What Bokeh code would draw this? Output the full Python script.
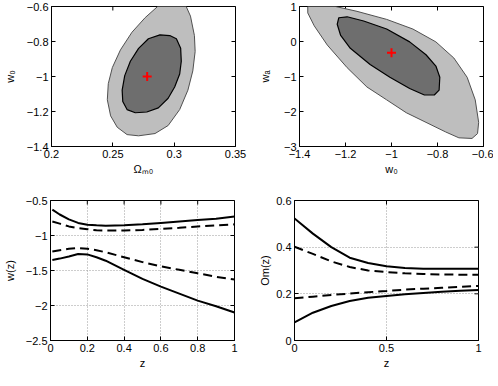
import math
from bokeh.plotting import figure
from bokeh.layouts import column, row
from bokeh.models import FixedTicker, CustomJSTickFormatter, Range1d
from bokeh.embed import file_html
from bokeh.resources import INLINE

# ---------------- data ----------------
# Top-left: Omega_m0 vs w0 confidence contours
tl_outer_om = [0.2865, 0.3098, 0.3133, 0.3165, 0.3171, 0.3152, 0.3112, 0.3045, 0.2951, 0.2844,
               0.2710, 0.2616, 0.2536, 0.2482, 0.2455, 0.2463, 0.2496, 0.2562, 0.2656, 0.2763]
tl_outer_w0 = [-0.600, -0.600, -0.655, -0.766, -0.857, -0.968, -1.078, -1.189, -1.280, -1.326,
               -1.339, -1.332, -1.290, -1.225, -1.133, -1.041, -0.949, -0.848, -0.747, -0.664]
tl_inner_om = [0.2964, 0.3018, 0.3053, 0.3058, 0.3045, 0.3004, 0.2951, 0.2871, 0.2777, 0.2683,
               0.2616, 0.2581, 0.2576, 0.2597, 0.2643, 0.2710, 0.2790, 0.2884]
tl_inner_w0 = [-0.766, -0.784, -0.839, -0.913, -0.986, -1.060, -1.124, -1.179, -1.203, -1.207,
               -1.189, -1.143, -1.078, -0.995, -0.913, -0.839, -0.784, -0.762]
tl_best = ([0.278], [-1.0])

# Top-right: w0 vs wa confidence contours
tr_outer_w0 = [-1.364, -1.243, -1.150, -1.021, -0.907, -0.807, -0.729, -0.671, -0.636, -0.621,
               -0.626, -0.650, -0.707, -0.764, -0.850, -0.936, -1.021, -1.107, -1.193, -1.279,
               -1.336, -1.364]
tr_outer_wa = [1.0, 1.0, 0.862, 0.632, 0.356, -0.011, -0.471, -1.023, -1.667, -2.310,
               -2.632, -2.770, -2.752, -2.586, -2.310, -2.034, -1.667, -1.299, -0.747, -0.103,
               0.448, 0.816]
tr_inner_w0 = [-1.229, -1.193, -1.121, -1.021, -0.921, -0.850, -0.807, -0.790, -0.793, -0.814,
               -0.857, -0.921, -1.007, -1.093, -1.179, -1.221, -1.236]
tr_inner_wa = [0.678, 0.706, 0.586, 0.356, -0.011, -0.379, -0.701, -1.023, -1.391, -1.529,
               -1.529, -1.345, -1.023, -0.655, -0.195, 0.172, 0.494]
tr_best = ([-1.0], [-0.32])

# Bottom-left: w(z) bands
z_w = [0.01, 0.05, 0.1, 0.15, 0.2, 0.25, 0.3, 0.4, 0.5, 0.6, 0.7, 0.8, 0.9, 1.0]
w_up_solid = [-0.63, -0.70, -0.77, -0.82, -0.845, -0.855, -0.86, -0.855, -0.84, -0.82, -0.80, -0.78, -0.76, -0.73]
w_up_dash = [-0.80, -0.83, -0.87, -0.895, -0.91, -0.925, -0.93, -0.93, -0.92, -0.905, -0.89, -0.87, -0.855, -0.84]
w_lo_dash = [-1.23, -1.21, -1.19, -1.18, -1.19, -1.21, -1.24, -1.31, -1.38, -1.44, -1.49, -1.54, -1.59, -1.63]
w_lo_solid = [-1.35, -1.33, -1.30, -1.265, -1.27, -1.31, -1.36, -1.49, -1.62, -1.73, -1.83, -1.93, -2.01, -2.10]

# Bottom-right: Om(z) bands
z_om = [0.0, 0.1, 0.2, 0.3, 0.4, 0.5, 0.6, 0.7, 0.8, 0.9, 1.0]
om_up_solid = [0.523, 0.458, 0.400, 0.355, 0.332, 0.318, 0.311, 0.308, 0.307, 0.307, 0.307]
om_up_dash = [0.402, 0.371, 0.339, 0.315, 0.300, 0.293, 0.288, 0.285, 0.283, 0.282, 0.282]
om_lo_dash = [0.181, 0.188, 0.195, 0.201, 0.207, 0.212, 0.218, 0.222, 0.226, 0.230, 0.234]
om_lo_solid = [0.078, 0.119, 0.148, 0.169, 0.183, 0.191, 0.198, 0.204, 0.209, 0.213, 0.216]

# ticks
tl_xticks = [0.2, 0.25, 0.3, 0.35]
tl_yticks = [-1.4, -1.2, -1.0, -0.8, -0.6]
tr_xticks = [-1.4, -1.2, -1.0, -0.8, -0.6]
tr_yticks = [-3, -2, -1, 0, 1]
bl_xticks = [0, 0.2, 0.4, 0.6, 0.8, 1.0]
bl_yticks = [-2.5, -2.0, -1.5, -1.0, -0.5]
br_xticks = [0, 0.5, 1.0]
br_yticks = [0, 0.2, 0.4, 0.6]

FONT = "Liberation Sans"
FMT_CODE = "var v = Math.round(tick*1000)/1000; return v.toString().replace('-', '\u2212');"


def make_fig(xr, yr, xticks, yticks, xlabel, ylabel, bl, br, bt, bb, fw, fh, ystand, grid=None):
    p = figure(x_range=Range1d(*xr), y_range=Range1d(*yr), frame_width=fw, frame_height=fh,
               output_backend="svg", toolbar_location=None,
               min_border_left=bl, min_border_right=br, min_border_top=bt, min_border_bottom=bb)
    p.background_fill_color = "white"
    p.border_fill_color = "white"
    p.outline_line_color = "black"
    p.outline_line_width = 1
    p.outline_line_alpha = 1
    p.xaxis.ticker = FixedTicker(ticks=xticks)
    p.yaxis.ticker = FixedTicker(ticks=yticks)
    p.xaxis.axis_label = xlabel
    p.yaxis.axis_label = ylabel
    for ax in p.axis:
        ax.formatter = CustomJSTickFormatter(code=FMT_CODE)
        ax.major_tick_in = 4
        ax.major_tick_out = 0
        ax.minor_tick_line_color = None
        ax.major_label_text_font = FONT
        ax.major_label_text_font_size = "11px"
        ax.major_label_text_color = "black"
        ax.axis_label_text_font = FONT
        ax.axis_label_text_font_size = "11px"
        ax.axis_label_text_font_style = "normal"
        ax.axis_label_text_color = "black"
        ax.axis_line_color = "black"
        ax.major_tick_line_color = "black"
        ax.major_label_standoff = 3
    p.xaxis.axis_label_standoff = 2
    p.yaxis.axis_label_standoff = ystand
    # inward box ticks on the right and top edges (outer half clipped by the frame)
    p.scatter([xr[1]] * len(yticks), yticks, marker="dash", size=8,
              line_color="black", line_width=1)
    p.scatter(xticks, [yr[1]] * len(xticks), marker="dash", size=8, angle=math.pi / 2,
              line_color="black", line_width=1)
    if grid is None:
        p.xgrid.grid_line_color = None
        p.ygrid.grid_line_color = None
    else:
        gx, gy = grid
        p.xgrid.ticker = FixedTicker(ticks=gx)
        p.ygrid.ticker = FixedTicker(ticks=gy)
        for g in (p.xgrid, p.ygrid):
            g.grid_line_color = "#9a9a9a"
            g.grid_line_dash = "1 2"
            g.grid_line_width = 1
    return p


FW, FH = 184, 140

# Top-left
p1 = make_fig((0.2, 0.35), (-1.4, -0.6), tl_xticks, tl_yticks, "Ωₘ₀", "w₀",
              44, 20, 6, 32, FW, FH, 8)
p1.patch(tl_outer_om, tl_outer_w0, fill_color="#bebebe", line_color="#505050", line_width=1)
p1.patch(tl_inner_om, tl_inner_w0, fill_color="#6e6e6e", line_color="black", line_width=1.2)
p1.scatter(tl_best[0], tl_best[1], marker="cross", size=9, line_color="red", line_width=2)

# Top-right
p2 = make_fig((-1.4, -0.6), (-3, 1), tr_xticks, tr_yticks, "w₀", "wₐ",
              40, 10, 6, 32, FW, FH, 10)
p2.patch(tr_outer_w0, tr_outer_wa, fill_color="#bebebe", line_color="#505050", line_width=1)
p2.patch(tr_inner_w0, tr_inner_wa, fill_color="#6e6e6e", line_color="black", line_width=1.2)
p2.scatter(tr_best[0], tr_best[1], marker="cross", size=9, line_color="red", line_width=2)

# Bottom-left
p3 = make_fig((0, 1), (-2.5, -0.5), bl_xticks, bl_yticks, "z", "w(z)",
              44, 20, 22, 30, FW, FH, 7, grid=([0.2, 0.4, 0.6, 0.8], [-2.0, -1.5, -1.0]))
p3.line(z_w, w_up_solid, line_color="black", line_width=2)
p3.line(z_w, w_up_dash, line_color="black", line_width=2, line_dash="9 5")
p3.line(z_w, w_lo_dash, line_color="black", line_width=2, line_dash="9 5")
p3.line(z_w, w_lo_solid, line_color="black", line_width=2)

# Bottom-right
p4 = make_fig((0, 1), (0, 0.6), br_xticks, br_yticks, "z", "Om(z)",
              40, 10, 22, 30, FW, FH, 2, grid=([0.5], [0.2, 0.4]))
p4.line(z_om, om_up_solid, line_color="black", line_width=2)
p4.line(z_om, om_up_dash, line_color="black", line_width=2, line_dash="9 5")
p4.line(z_om, om_lo_dash, line_color="black", line_width=2, line_dash="9 5")
p4.line(z_om, om_lo_solid, line_color="black", line_width=2)

layout = column(row(p1, p2), row(p3, p4))
open("out.html", "w").write(file_html(layout, INLINE))
